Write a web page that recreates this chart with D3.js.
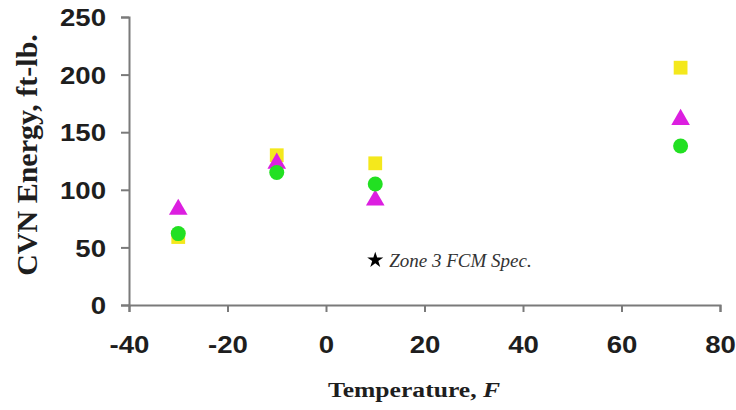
<!DOCTYPE html>
<html>
<head>
<meta charset="utf-8">
<script src="https://cdn.jsdelivr.net/npm/d3@7"></script>
<style>
	body { margin: 0; background: #fff; }
	svg { display: block; }
</style>
</head>
<body>
<svg id="chart"></svg>
<script>
// temperatures (F) of the test groups
const temps = [-30, -10, 10, 72];
// CVN energy values per series, ft-lb.
const squareVals = [59, 130, 123, 206];
const triangleVals = [83, 123, 91, 161];
const circleVals = [62, 115, 105, 138];
// spec point
const specTemp = [10];
const specVal = [39];
const xTicks = [-40, -20, 0, 20, 40, 60, 80];
const yTicks = [0, 50, 100, 150, 200, 250];

const width = 736;
const height = 410;
const margin = { top: 17, right: 16, bottom: 105, left: 129 };

const svg = d3.select("#chart").attr("width", width).attr("height", height);

const x = d3.scaleLinear().domain([-40, 80]).range([margin.left, width - margin.right]);
const y = d3.scaleLinear().domain([0, 250]).range([height - margin.bottom, margin.top]);

const axisColor = "#7a7a7a";
const labelStretch = 1.15; // tick digits in the original are a bit wide

// x axis (plain hyphen for negatives, like the original)
const gx = svg.append("g")
	.attr("transform", `translate(0,${y(0)})`)
	.call(d3.axisBottom(x).tickValues(xTicks).tickSize(7).tickPadding(24).tickFormat((d) => String(d)));
// y axis
const gy = svg.append("g")
	.attr("transform", `translate(${x(-40)},0)`)
	.call(d3.axisLeft(y).tickValues(yTicks).tickSize(8).tickPadding(15));

[gx, gy].forEach((g) => {
	g.select(".domain").attr("stroke", axisColor).attr("stroke-width", 2);
	g.selectAll(".tick line").attr("stroke", axisColor).attr("stroke-width", 2);
	g.selectAll(".tick text")
		.attr("fill", "#1e1e1e")
		.attr("transform", `scale(${labelStretch},1)`)
		.style("font-family", "'Liberation Sans', Arial, sans-serif")
		.style("font-weight", "bold")
		.style("font-size", "24px");
});
gy.selectAll(".tick text").attr("dy", "0.36em").attr("x", -23 / labelStretch);

// series marks: squares, then triangles, then circles on top
const rows = (vals) => temps.map((t, i) => ({ t: t, v: vals[i] }));

svg.append("g").selectAll("path")
	.data(rows(squareVals))
	.join("path")
	.attr("d", d3.symbol(d3.symbolSquare, 190))
	.attr("transform", (d) => `translate(${x(d.t)},${y(d.v)})`)
	.attr("fill", "#f4e81c");

svg.append("g").selectAll("path")
	.data(rows(triangleVals))
	.join("path")
	.attr("d", d3.symbol(d3.symbolTriangle, 150))
	.attr("transform", (d) => `translate(${x(d.t)},${y(d.v)})`)
	.attr("fill", "#dc1fe0");

svg.append("g").selectAll("circle")
	.data(rows(circleVals))
	.join("circle")
	.attr("cx", (d) => x(d.t))
	.attr("cy", (d) => y(d.v))
	.attr("r", 7.5)
	.attr("fill", "#22e022");

// spec star with its label
svg.append("g").selectAll("path")
	.data(specTemp.map((t, i) => ({ t: t, v: specVal[i] })))
	.join("path")
	.attr("d", d3.symbol(d3.symbolStar, 80))
	.attr("transform", (d) => `translate(${x(d.t)},${y(d.v)})`)
	.attr("fill", "#000");

svg.append("text")
	.attr("x", x(specTemp[0]) + 14)
	.attr("y", y(specVal[0]) + 7)
	.style("font-family", "'Liberation Serif', 'Times New Roman', serif")
	.style("font-style", "italic")
	.style("font-size", "19px")
	.attr("fill", "#333")
	.text("Zone 3 FCM Spec.");

// axis titles
const xTitle = svg.append("text")
	.attr("transform", "translate(414,397) scale(1.22,1)")
	.attr("text-anchor", "middle")
	.style("font-family", "'Liberation Serif', 'Times New Roman', serif")
	.style("font-weight", "bold")
	.style("font-size", "21px")
	.attr("fill", "#1e1e1e");
xTitle.append("tspan").text("Temperature, ");
xTitle.append("tspan").style("font-style", "italic").text("F");

svg.append("text")
	.attr("transform", `translate(37,155) rotate(-90)`)
	.attr("text-anchor", "middle")
	.style("font-family", "'Liberation Serif', 'Times New Roman', serif")
	.style("font-weight", "bold")
	.style("font-size", "30px")
	.attr("fill", "#1e1e1e")
	.text("CVN Energy, ft-lb.");
</script>
</body>
</html>
